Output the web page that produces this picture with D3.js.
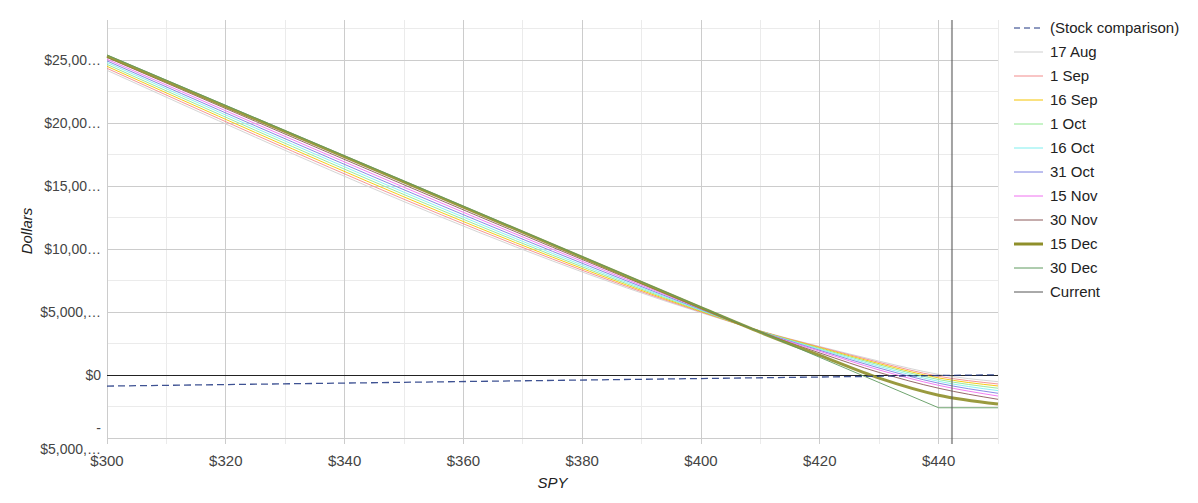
<!DOCTYPE html>
<html>
<head>
<meta charset="utf-8">
<script src="https://cdn.jsdelivr.net/npm/d3@7"></script>
<style>
  html, body { margin: 0; padding: 0; background: #fff; }
  svg { display: block; font-family: Arial, "Liberation Sans", sans-serif; }
</style>
</head>
<body>
<svg id="chart" width="1198" height="503"></svg>
<script>
// ---- DATA ----
const prices = [300, 400, 410, 420, 430, 440, 450];
const seriesNames = ["17 Aug", "1 Sep", "16 Sep", "1 Oct", "16 Oct", "31 Oct", "15 Nov", "30 Nov", "15 Dec", "30 Dec"];
const v17Aug = [24180, 4950, 3500, 2260, 1100, 50, -530];
const v1Sep  = [24340, 5000, 3490, 2220, 1000, -100, -710];
const v16Sep = [24500, 5050, 3480, 2170, 900, -230, -870];
const v1Oct  = [24650, 5100, 3470, 2110, 800, -360, -1050];
const v16Oct = [24800, 5150, 3460, 2040, 680, -500, -1240];
const v31Oct = [24930, 5200, 3440, 1960, 550, -650, -1450];
const v15Nov = [25060, 5250, 3420, 1880, 400, -820, -1670];
const v30Nov = [25200, 5300, 3400, 1750, 200, -1050, -1930];
const v15Dec = [25300, 5350, 3380, 1550, -250, -1600, -2300];
const v30Dec = [25400, 5400, 3400, 1400, -600, -2600, -2600];
const seriesValues = [v17Aug, v1Sep, v16Sep, v1Oct, v16Oct, v31Oct, v15Nov, v30Nov, v15Dec, v30Dec];
const stockPrices = [300, 450];
const stockValues = [-880, 20];
const currentPrice = 442.25;
const xTicks = [300, 320, 340, 360, 380, 400, 420, 440];
const xTickLabels = ["$300", "$320", "$340", "$360", "$380", "$400", "$420", "$440"];
const xMinor = [310, 330, 350, 370, 390, 410, 430, 450];
const yTicks = [-5000, 0, 5000, 10000, 15000, 20000, 25000];
const yTickLabels = [["-", "$5,000,…"], ["$0"], ["$5,000,…"], ["$10,00…"], ["$15,00…"], ["$20,00…"], ["$25,00…"]];
const yMinor = [-2500, 2500, 7500, 12500, 17500, 22500, 27500];
const legendLabels = ["(Stock comparison)", "17 Aug", "1 Sep", "16 Sep", "1 Oct", "16 Oct", "31 Oct", "15 Nov", "30 Nov", "15 Dec", "30 Dec", "Current"];

// ---- STYLE ----
const colors = ["#cfcfcf", "#f28b8b", "#f5c400", "#8fe88f", "#7fefef", "#7b7fe0", "#f070f0", "#8c5a5a", "#8f8f2a", "#5f9a5f"];
const widths = [1, 1, 1, 1, 1, 1, 1, 1, 3, 1];
const stockColor = "#1c3480";
const currentColor = "#555";

const svg = d3.select("#chart");
const x = d3.scaleLinear().domain([300, 450]).range([107, 998]);
const y = d3.scaleLinear().domain([-5000, 28175]).range([438, 20]);
const plotTop = 20, plotBottom = 438;

// minor grid
svg.append("g").selectAll("line").data(xMinor).join("line")
  .attr("x1", d => x(d)).attr("x2", d => x(d)).attr("y1", plotTop).attr("y2", plotBottom + 6)
  .attr("stroke", "#ebebeb").attr("stroke-width", 1).attr("shape-rendering", "crispEdges");
svg.append("g").selectAll("line").data(yMinor).join("line")
  .attr("x1", x(300)).attr("x2", x(450)).attr("y1", d => y(d)).attr("y2", d => y(d))
  .attr("stroke", "#ebebeb").attr("stroke-width", 1).attr("shape-rendering", "crispEdges");
// major grid
svg.append("g").selectAll("line").data(yTicks.filter(d => d !== 0)).join("line")
  .attr("x1", x(300)).attr("x2", x(450)).attr("y1", d => y(d)).attr("y2", d => y(d))
  .attr("stroke", "#cccccc").attr("stroke-width", 1).attr("shape-rendering", "crispEdges");
svg.append("g").selectAll("line").data(xTicks).join("line")
  .attr("x1", d => x(d)).attr("x2", d => x(d)).attr("y1", plotTop).attr("y2", plotBottom + 6)
  .attr("stroke", "#cccccc").attr("stroke-width", 1).attr("shape-rendering", "crispEdges");

// axis labels
const xl = svg.append("g").attr("font-size", 15).attr("fill", "#444");
xl.selectAll("text").data(xTicks).join("text")
  .attr("x", d => x(d)).attr("y", 466).attr("text-anchor", "middle")
  .text((d, i) => xTickLabels[i]);
const yl = svg.append("g").attr("font-size", 14).attr("fill", "#444");
yTicks.forEach((t, i) => {
  const lines = yTickLabels[i];
  const t0 = yl.append("text").attr("text-anchor", "end").attr("x", 101);
  if (lines.length === 1) {
    t0.attr("y", y(t) + 5).text(lines[0]);
  } else {
    t0.attr("y", y(t) - 5).text(lines[0]);
    yl.append("text").attr("text-anchor", "end").attr("x", 101).attr("y", y(t) + 16).text(lines[1]);
  }
});
svg.append("text").attr("x", x(375)).attr("y", 488).attr("text-anchor", "middle")
  .attr("font-size", 15).attr("font-style", "italic").attr("fill", "#222").text("SPY");
svg.append("text").attr("transform", `translate(32,231) rotate(-90)`)
  .attr("text-anchor", "middle").attr("font-size", 15).attr("font-style", "italic").attr("fill", "#222").text("Dollars");

// baseline
svg.append("line").attr("x1", x(300)).attr("x2", x(450)).attr("y1", y(0)).attr("y2", y(0))
  .attr("stroke", "#222").attr("stroke-width", 1).attr("shape-rendering", "crispEdges");

// series
const g = svg.append("g");
seriesValues.forEach((vals, i) => {
  const line = d3.line()
    .x((d, j) => x(prices[j])).y(d => y(d))
    .curve(i === 9 ? d3.curveLinear : d3.curveMonotoneX);
  g.append("path").datum(vals).attr("d", line).attr("fill", "none")
    .attr("stroke", colors[i]).attr("stroke-width", widths[i]).attr("stroke-opacity", 0.9);
});

// stock comparison
svg.append("path").datum(stockValues)
  .attr("d", d3.line().x((d, j) => x(stockPrices[j])).y(d => y(d)))
  .attr("fill", "none").attr("stroke", stockColor).attr("stroke-width", 1.3)
  .attr("stroke-dasharray", "7,4").attr("stroke-opacity", 0.85);

// current
svg.append("line").attr("x1", x(currentPrice)).attr("x2", x(currentPrice)).attr("y1", plotTop).attr("y2", plotBottom + 6)
  .attr("stroke", currentColor).attr("stroke-opacity", 0.55).attr("stroke-width", 2);

// legend
const lg = svg.append("g").attr("font-size", 15).attr("fill", "#222");
legendLabels.forEach((lab, i) => {
  const yy = 28 + i * 24;
  const ln = lg.append("line").attr("x1", 1014).attr("x2", 1043).attr("y1", yy).attr("y2", yy);
  if (i === 0) {
    ln.attr("stroke", stockColor).attr("stroke-width", 1).attr("stroke-dasharray", "6,4");
  } else if (i === 11) {
    ln.attr("stroke", currentColor).attr("stroke-width", 1);
  } else {
    ln.attr("stroke", colors[i - 1]).attr("stroke-width", widths[i - 1]);
  }
  lg.append("text").attr("x", 1050).attr("y", yy + 5).text(lab);
});
</script>
</body>
</html>
